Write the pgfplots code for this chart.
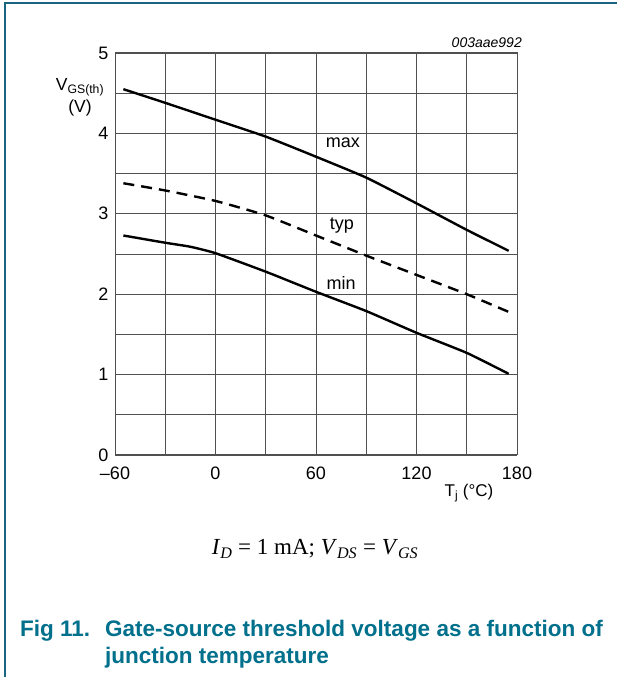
\documentclass[border=0pt]{standalone}
\usepackage{pgfplots}
\pgfplotsset{compat=1.18}
\usepackage{fontspec}
\setmainfont{Liberation Sans}
\newfontfamily\seriffont{Liberation Serif}
\definecolor{gridc}{RGB}{80,80,80}
\definecolor{framec}{RGB}{25,100,128}
\definecolor{titlec}{RGB}{0,112,140}
\begin{document}
\begin{tikzpicture}
\useasboundingbox (0pt,0pt) rectangle (617pt,677pt);
\fill[white] (0pt,0pt) rectangle (617pt,677pt);
\draw[framec, line width=1.6pt] (5pt,0pt) -- (5pt,674pt) -- (617pt,674pt);
\begin{axis}[
  at={(115pt,222pt)}, anchor=south west,
  width=402pt, height=402pt, scale only axis,
  xmin=-60, xmax=180, ymin=0, ymax=5,
  xtick={-60,0,60,120,180},
  xticklabels={–60,0,60,120,180},
  minor xtick={-30,30,90,150},
  ytick={0,1,2,3,4,5},
  minor ytick={0.5,1.5,2.5,3.5,4.5},
  grid=both,
  grid style={gridc, line width=0.8pt},
  minor grid style={gridc, line width=0.8pt},
  axis line style={gridc, line width=1pt},
  major tick length=0pt, minor tick length=0pt,
  tick label style={font=\fontsize{18}{18}\selectfont},
  /pgf/number format/assume math mode=true,
  xticklabel style={yshift=-8pt},
  yticklabel style={xshift=-3pt},
  clip=false,
]
\addplot[black, line width=2.4pt, smooth, tension=0.3] coordinates {
 (-55,4.55) (-30,4.38) (0,4.17) (30,3.96) (60,3.71) (90,3.45) (120,3.13) (150,2.80) (175,2.54)};
\addplot[black, line width=2.4pt, smooth, tension=0.3, dash pattern=on 11pt off 7pt] coordinates {
 (-55,3.38) (-30,3.29) (0,3.16) (30,2.98) (60,2.73) (90,2.48) (120,2.24) (150,2.00) (175,1.78)};
\addplot[black, line width=2.4pt, smooth, tension=0.3] coordinates {
 (-55,2.73) (-30,2.64) (-15,2.59) (0,2.51) (30,2.28) (60,2.03) (90,1.79) (120,1.52) (150,1.27) (175,1.01)};
\node[font=\fontsize{18}{18}\selectfont] at (axis cs:76,3.88) {max};
\node[font=\fontsize{18}{18}\selectfont] at (axis cs:75.5,2.85) {typ};
\node[font=\fontsize{18}{18}\selectfont] at (axis cs:75,2.14) {min};
\end{axis}
\node[font=\fontsize{14}{14}\selectfont\itshape, anchor=east, inner sep=0pt] at (522pt,634pt) {003aae992};
\node[font=\fontsize{17.5}{17}\selectfont, align=center, inner sep=0pt] at (80pt,580pt) {V\textsubscript{GS(th)}\\[3pt](V)};
\node[font=\fontsize{17}{17}\selectfont, inner sep=0pt] at (469pt,184pt) {T\textsubscript{j} (°C)};
\node[font=\fontsize{23}{23}\seriffont, inner sep=0pt] at (315pt,128pt) {\textit{I}\textsubscript{\textit{D}} = 1 mA; \textit{V}\textsubscript{\textit{DS}} = \textit{V}\textsubscript{\textit{GS}}};
\node[font=\fontsize{22.5}{27}\selectfont\bfseries, text=titlec, anchor=base west, inner sep=0pt] at (20pt,40pt) {Fig 11.};
\node[font=\fontsize{22.5}{27}\selectfont\bfseries, text=titlec, anchor=base west, inner sep=0pt, align=left] at (105pt,40pt) {Gate-source threshold voltage as a function of};
\node[font=\fontsize{22.5}{27}\selectfont\bfseries, text=titlec, anchor=base west, inner sep=0pt, align=left] at (105pt,13pt) {junction temperature};
\end{tikzpicture}
\end{document}
